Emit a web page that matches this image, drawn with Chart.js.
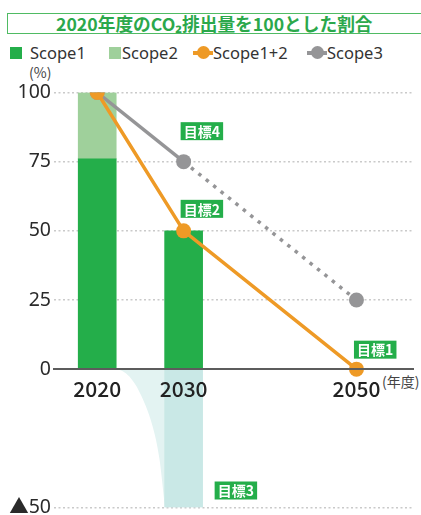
<!DOCTYPE html>
<html>
<head>
<meta charset="utf-8">
<script src="https://cdn.jsdelivr.net/npm/chart.js@4"></script>
<style>
  body { margin: 0; background: #fff; }
  #wrap { position: relative; width: 421px; height: 515px; overflow: hidden; background: #fff;
          font-family: "Noto Sans CJK JP", "Noto Sans", sans-serif; }
  #chart { position: absolute; left: 0; top: 0; }
  .title { position: absolute; left: 7px; top: 13px; width: 440px; height: 19px; line-height: 19px;
           border: 1.5px solid #4fbb63; color: #2ba84b; font-size: 17.7px; font-weight: bold;
           padding-left: 48px; box-sizing: content-box; white-space: nowrap; }
  .lg-text { position: absolute; top: 43px; font-family: "Noto Sans", sans-serif; font-size: 16.5px;
             color: #333; line-height: 20px; white-space: nowrap; }
  .lg-box { position: absolute; top: 47px; width: 12px; height: 12px; }
  .lg-line { position: absolute; top: 51px; width: 20px; height: 3.5px; }
  .lg-dot { position: absolute; top: 46px; width: 13px; height: 13px; border-radius: 50%; }
  .unit { position: absolute; font-size: 14px; color: #444; white-space: nowrap; }
</style>
</head>
<body>
<div id="wrap">
  <div class="title">2020年度のCO₂排出量を100とした割合</div>
  <div id="legend"></div>
  <div class="unit" style="left:29px; top:62px;">(%)</div>
  <div class="unit" style="left:382px; top:371px;">(年度)</div>
  <canvas id="chart" width="421" height="515"></canvas>
</div>
<script>
// values (index = fiscal year)
const years = [2020, 2030, 2050];
const scope1 = [76, 50, null];
const scope2 = [24, 0, null];
const scope12 = [100, 50, 0];
const scope3 = [100, 75, 25];
const absorbed = [null, -50, null];
// outline of the pale area that leads into the 2030 absorption bar
const curveYears = [2022.4, 2023.0, 2023.7, 2024.9, 2026.4, 2027.2, 2027.85];
const curveValues = [0, -0.8, -2.6, -8.3, -20.5, -32.4, -50];

const seriesNames = ["Scope1", "Scope2", "Scope1+2", "Scope3"];
const targetNames = ["目標1", "目標2", "目標3", "目標4"];
const yTicks = [-50, 0, 25, 50, 75, 100];
const xTicks = [2020, 2030, 2050];

const GREEN = "#24ae4a";
const LIGHT_GREEN = "#9fd09b";
const ORANGE = "#ee9a26";
const GREY = "#959597";

const pts = (ys) => years.map((x, i) => ({ x, y: ys[i] })).filter(p => p.y !== null);

// legend, laid out like the printed one
const legendItems = [
    { name: seriesNames[0], kind: "box", color: GREEN, left: 10, textLeft: 30 },
    { name: seriesNames[1], kind: "box", color: LIGHT_GREEN, left: 109, textLeft: 122 },
    { name: seriesNames[2], kind: "line", color: ORANGE, left: 193, textLeft: 213 },
    { name: seriesNames[3], kind: "line", color: GREY, left: 307, textLeft: 327 },
];
const legendEl = document.getElementById("legend");
legendItems.forEach(it => {
    if (it.kind === "box") {
        legendEl.insertAdjacentHTML("beforeend",
            `<div class="lg-box" style="left:${it.left}px;background:${it.color}"></div>`);
    } else {
        legendEl.insertAdjacentHTML("beforeend",
            `<div class="lg-line" style="left:${it.left}px;background:${it.color}"></div>` +
            `<div class="lg-dot" style="left:${it.left + 3.5}px;background:${it.color}"></div>`);
    }
    legendEl.insertAdjacentHTML("beforeend",
        `<div class="lg-text" style="left:${it.textLeft}px">${it.name}</div>`);
});

// green "目標" tags, anchored on data points and nudged in px
const targetTags = [
    { text: targetNames[0], x: 2050, y: 0, dx: -2.5, dy: -28.5 },
    { text: targetNames[1], x: 2030, y: 50, dx: -3, dy: -31 },
    { text: targetNames[2], x: 2030, y: -50, dx: 31, dy: -26 },
    { text: targetNames[3], x: 2030, y: 75, dx: -3, dy: -39.5 },
];
const targetTagPlugin = {
    id: "targetTags",
    afterDatasetsDraw(chart) {
        const { ctx, scales } = chart;
        ctx.save();
        ctx.font = "bold 14px 'Noto Sans CJK JP', 'Noto Sans', sans-serif";
        ctx.textAlign = "center";
        ctx.textBaseline = "middle";
        targetTags.forEach(t => {
            const left = scales.x.getPixelForValue(t.x) + t.dx;
            const top = scales.y.getPixelForValue(t.y) + t.dy;
            ctx.fillStyle = GREEN;
            ctx.fillRect(left, top, 42.5, 18);
            ctx.fillStyle = "#fff";
            ctx.fillText(t.text, left + 21.25, top + 9.5);
        });
        ctx.restore();
    },
};

new Chart(document.getElementById("chart"), {
    type: "bar",
    data: {
        datasets: [
            {
                type: "line",
                label: seriesNames[2],
                data: pts(scope12),
                borderColor: ORANGE,
                backgroundColor: ORANGE,
                borderWidth: 3.5,
                pointRadius: 7.5,
                pointBorderWidth: 0,
                pointBackgroundColor: ORANGE,
                tension: 0,
            },
            {
                type: "line",
                label: seriesNames[3],
                data: pts(scope3),
                borderColor: GREY,
                backgroundColor: GREY,
                borderWidth: 3.5,
                pointRadius: 7.5,
                pointBorderWidth: 0,
                pointBackgroundColor: GREY,
                tension: 0,
                segment: {
                    borderDash: (c) => (c.p0DataIndex >= 1 ? [3.5, 6] : undefined),
                },
            },
            {
                label: seriesNames[0],
                data: pts(scope1),
                backgroundColor: GREEN,
                barThickness: 38,
                grouped: false,
            },
            {
                label: seriesNames[1],
                data: years.map((x, i) => ({ x, y: [scope1[i], scope1[i] + scope2[i]] }))
                    .filter(p => p.y[1] > p.y[0]),
                backgroundColor: LIGHT_GREEN,
                barThickness: 38,
                grouped: false,
            },
            {
                label: "absorbed",
                data: pts(absorbed),
                backgroundColor: "#c9e8e6",
                barThickness: 38,
                grouped: false,
            },
            {
                type: "line",
                label: "absorbedLead",
                data: curveYears.map((x, i) => ({ x, y: curveValues[i] })),
                borderWidth: 0,
                pointRadius: 0,
                fill: "origin",
                backgroundColor: "#e3f3f2",
                cubicInterpolationMode: "monotone",
            },
        ],
    },
    options: {
        responsive: false,
        animation: false,
        layout: { padding: { top: 92.5, bottom: 3.5, left: 0, right: 0 } },
        plugins: { legend: { display: false }, tooltip: { enabled: false } },
        scales: {
            x: {
                type: "linear",
                position: { y: 0 },
                min: 2015,
                max: 2056.6,
                offset: false,
                afterBuildTicks: (s) => { s.ticks = xTicks.map(v => ({ value: v })); },
                afterFit: (s) => { s.paddingLeft = 0; s.paddingRight = 0; },
                grid: { display: true, color: "rgba(0,0,0,0)", drawTicks: false },
                border: { display: true, color: "#5c5c5c", width: 2, z: 1 },
                ticks: {
                    z: 1,
                    padding: 7,
                    color: "#222",
                    maxRotation: 0,
                    autoSkip: false,
                    font: { family: "'Noto Sans CJK JP', 'Noto Sans', sans-serif", size: 21, weight: 500 },
                    callback: (v) => String(v),
                },
            },
            y: {
                min: -50,
                max: 100,
                afterBuildTicks: (s) => { s.ticks = yTicks.map(v => ({ value: v })); },
                afterFit: (s) => { s.width = 54; s.paddingTop = 0; s.paddingBottom = 0; },
                grid: {
                    drawTicks: false,
                    lineWidth: 1.5,
                    color: (c) => (c.tick && c.tick.value === 0 ? "rgba(0,0,0,0)" : "#cacaca"),
                },
                border: { display: false, dash: [2, 2.5] },
                ticks: {
                    padding: 3,
                    color: "#2a2a2a",
                    font: { family: "'Noto Sans', 'Noto Sans CJK JP', sans-serif", size: 19.5 },
                    callback: (v) => (v < 0 ? "▲" + Math.abs(v) : String(v)),
                },
            },
        },
    },
    plugins: [targetTagPlugin],
});
</script>
</body>
</html>
